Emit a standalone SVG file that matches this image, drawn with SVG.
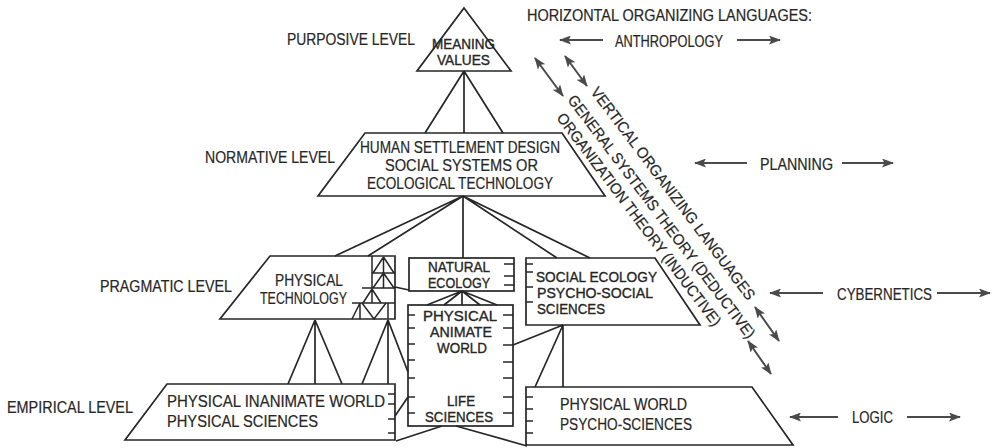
<svg xmlns="http://www.w3.org/2000/svg" width="996" height="448" viewBox="0 0 996 448">
<style>
  text { font-family: "Liberation Sans Narrow", "Liberation Sans", Arial, sans-serif; font-size: 16.5px; fill: #262626; stroke: #262626; stroke-width: 0.2; }
  .tight { font-size: 14.2px; stroke-width: 0.35; }
  .rot { font-size: 15.5px; }
  .box { fill: none; stroke: #262626; stroke-width: 1.7; stroke-linejoin: miter; }
  .ln { fill: none; stroke: #262626; stroke-width: 1.7; }
  .tick { fill: none; stroke: #262626; stroke-width: 1.5; }
  .arr { fill: none; stroke: #4a4a4a; stroke-width: 2; }
</style>
<defs>
  <marker id="ah" viewBox="0 0 12 9" refX="11" refY="4.5" markerWidth="12" markerHeight="9" markerUnits="userSpaceOnUse" orient="auto-start-reverse">
    <path d="M0,0 L12,4.5 L0,9 L2.5,4.5 Z" fill="#4a4a4a"/>
  </marker>
</defs>
<rect width="996" height="448" fill="#fff"/>

<g id="level-labels">
  <text x="287" y="45" textLength="128" lengthAdjust="spacingAndGlyphs">PURPOSIVE LEVEL</text>
  <text x="205" y="163" textLength="130" lengthAdjust="spacingAndGlyphs">NORMATIVE LEVEL</text>
  <text x="100" y="292" textLength="132" lengthAdjust="spacingAndGlyphs">PRAGMATIC LEVEL</text>
  <text x="7" y="413" textLength="126" lengthAdjust="spacingAndGlyphs">EMPIRICAL LEVEL</text>
</g>

<g id="purposive">
  <polygon class="box" points="464,8 511,71 417,71"/>
  <text class="tight" x="432" y="49" textLength="63" lengthAdjust="spacingAndGlyphs">MEANING</text>
  <text class="tight" x="437" y="65" textLength="53" lengthAdjust="spacingAndGlyphs">VALUES</text>
</g>

<g id="normative">
  <polygon class="box" points="365,133 562,133 605,196 318,196"/>
  <text x="360" y="153" textLength="200" lengthAdjust="spacingAndGlyphs">HUMAN SETTLEMENT DESIGN</text>
  <text x="385" y="171" textLength="153" lengthAdjust="spacingAndGlyphs">SOCIAL SYSTEMS OR</text>
  <text x="367" y="189" textLength="186" lengthAdjust="spacingAndGlyphs">ECOLOGICAL TECHNOLOGY</text>
</g>

<g id="physical-technology">
  <polygon class="box" points="270,256 395,256 395,319 220,319"/>
  <text x="275" y="286" textLength="68" lengthAdjust="spacingAndGlyphs">PHYSICAL</text>
  <text x="260" y="304" textLength="87" lengthAdjust="spacingAndGlyphs">TECHNOLOGY</text>
  <g class="tick">
    <path d="M372,256 V288 M372,273 H395 M372,288 H395"/>
    <path d="M383.5,257 L373,273 M383.5,257 L394,273 M383.5,257 V273"/>
    <path d="M383.5,273 L373,288 M383.5,273 L394,288 M383.5,273 V288"/>
    <path d="M362,288 H372 M352,303 H395 M372,289 L363,303 M372,289 L381,303 M372,289 V303"/>
    <path d="M352,319 L360,303 M360,303 V319 M362,303 L374,319 L386,303 M388,303 V319"/>
  </g>
</g>

<g id="natural-ecology">
  <rect class="box" x="409" y="258" width="105" height="33"/>
  <text class="tight" x="428" y="272" textLength="62" lengthAdjust="spacingAndGlyphs">NATURAL</text>
  <text class="tight" x="428" y="288" textLength="62" lengthAdjust="spacingAndGlyphs">ECOLOGY</text>
  <path class="tick" d="M504,264 H514 M504,276 H514 M504,285 H514"/>
</g>

<g id="physical-animate-world">
  <rect class="box" x="408" y="305" width="105" height="121"/>
  <text class="tight" x="423" y="321" textLength="74" lengthAdjust="spacingAndGlyphs">PHYSICAL</text>
  <text class="tight" x="430" y="337" textLength="62" lengthAdjust="spacingAndGlyphs">ANIMATE</text>
  <text class="tight" x="437" y="353" textLength="50" lengthAdjust="spacingAndGlyphs">WORLD</text>
  <text class="tight" x="447" y="406" textLength="28" lengthAdjust="spacingAndGlyphs">LIFE</text>
  <text class="tight" x="425" y="422" textLength="68" lengthAdjust="spacingAndGlyphs">SCIENCES</text>
  <path class="tick" d="M408,315 H415 M408,328 H415 M408,344 H415 M408,360 H415 M408,378 H415 M408,397 H415 M408,413 H415"/>
  <path class="tick" d="M503,315 H513 M503,328 H513 M503,345 H513 M503,362 H513 M503,378 H513 M503,397 H513 M503,413 H513"/>
</g>

<g id="social-ecology">
  <polygon class="box" points="526,258 655,258 700,325 526,325"/>
  <text class="tight" x="536" y="282" textLength="121" lengthAdjust="spacingAndGlyphs">SOCIAL ECOLOGY</text>
  <text class="tight" x="537" y="298" textLength="116" lengthAdjust="spacingAndGlyphs">PSYCHO-SOCIAL</text>
  <text class="tight" x="537" y="314" textLength="68" lengthAdjust="spacingAndGlyphs">SCIENCES</text>
  <path class="tick" d="M526,264 H533 M526,272 H533 M526,287 H533 M526,302 H533"/>
</g>

<g id="physical-inanimate-world">
  <polygon class="box" points="167,384 395,384 395,440 125,440"/>
  <text x="167" y="407" textLength="218" lengthAdjust="spacingAndGlyphs">PHYSICAL INANIMATE WORLD</text>
  <text x="167" y="427" textLength="151" lengthAdjust="spacingAndGlyphs">PHYSICAL SCIENCES</text>
  <path class="tick" d="M388,394 H395 M388,404 H395 M388,419 H395 M388,433 H395"/>
</g>

<g id="physical-world">
  <polygon class="box" points="526,387 752,387 793,445 526,445"/>
  <text x="560" y="410" textLength="127" lengthAdjust="spacingAndGlyphs">PHYSICAL WORLD</text>
  <text x="560" y="430" textLength="132" lengthAdjust="spacingAndGlyphs">PSYCHO-SCIENCES</text>
  <path class="tick" d="M526,397 H533 M526,409 H533 M526,421 H533 M526,433 H533"/>
</g>

<g id="connectors">
  <path class="ln" d="M464,71 L425,133 M464,71 V133 M464,71 L503,133"/>
  <path class="ln" d="M463,196 L335,256 M463,196 L368,256 M463,196 V258 M463,196 L557,258 M463,196 L590,258"/>
  <path class="ln" d="M395,287 L409,290"/>
  <path class="ln" d="M462,291 L427,305 M462,291 L444,305 M462,291 V305 M462,291 L480,305 M462,291 L497,305"/>
  <path class="ln" d="M563,325 L513,345 M563,325 L535,387 M563,325 V387"/>
  <path class="ln" d="M315,320 L288,384 M315,320 V384 M315,320 L342,384"/>
  <path class="ln" d="M388,320 L362,384 M388,320 V384 M388,320 L408,372"/>
  <path class="ln" d="M395,416 L408,397"/>
  <path class="ln" d="M442,426 L396,441 M456,426 L527,446"/>
</g>

<g id="horizontal-languages">
  <text x="527" y="21" textLength="285" lengthAdjust="spacingAndGlyphs">HORIZONTAL ORGANIZING LANGUAGES:</text>
  <text x="615" y="47" textLength="108" lengthAdjust="spacingAndGlyphs">ANTHROPOLOGY</text>
  <line class="arr" x1="603" y1="40" x2="560" y2="40" marker-end="url(#ah)"/>
  <line class="arr" x1="737" y1="40" x2="780" y2="40" marker-end="url(#ah)"/>
  <text x="760" y="170" textLength="73" lengthAdjust="spacingAndGlyphs">PLANNING</text>
  <line class="arr" x1="747" y1="163" x2="695" y2="163" marker-end="url(#ah)"/>
  <line class="arr" x1="842" y1="163" x2="893" y2="163" marker-end="url(#ah)"/>
  <text x="837" y="300" textLength="95" lengthAdjust="spacingAndGlyphs">CYBERNETICS</text>
  <line class="arr" x1="823" y1="293" x2="770" y2="293" marker-end="url(#ah)"/>
  <line class="arr" x1="937" y1="293" x2="990" y2="293" marker-end="url(#ah)"/>
  <text x="852" y="423" textLength="41" lengthAdjust="spacingAndGlyphs">LOGIC</text>
  <line class="arr" x1="838" y1="417" x2="790" y2="417" marker-end="url(#ah)"/>
  <line class="arr" x1="907" y1="417" x2="960" y2="417" marker-end="url(#ah)"/>
</g>

<g id="vertical-languages">
  <text class="rot" transform="translate(590,92) rotate(53)" textLength="262" lengthAdjust="spacingAndGlyphs">VERTICAL ORGANIZING LANGUAGES</text>
  <text class="rot" transform="translate(567,100) rotate(53)" textLength="300" lengthAdjust="spacingAndGlyphs">GENERAL SYSTEMS THEORY (DEDUCTIVE)</text>
  <text class="rot" transform="translate(556,118) rotate(53)" textLength="262" lengthAdjust="spacingAndGlyphs">ORGANIZATION THEORY (INDUCTIVE)</text>
  <line class="arr" x1="535" y1="58" x2="563" y2="96" marker-start="url(#ah)" marker-end="url(#ah)"/>
  <line class="arr" x1="565" y1="56" x2="587" y2="86" marker-start="url(#ah)" marker-end="url(#ah)"/>
  <line class="arr" x1="755" y1="307" x2="779" y2="341" marker-start="url(#ah)" marker-end="url(#ah)"/>
  <line class="arr" x1="748" y1="341" x2="771" y2="374" marker-start="url(#ah)" marker-end="url(#ah)"/>
</g>
</svg>
